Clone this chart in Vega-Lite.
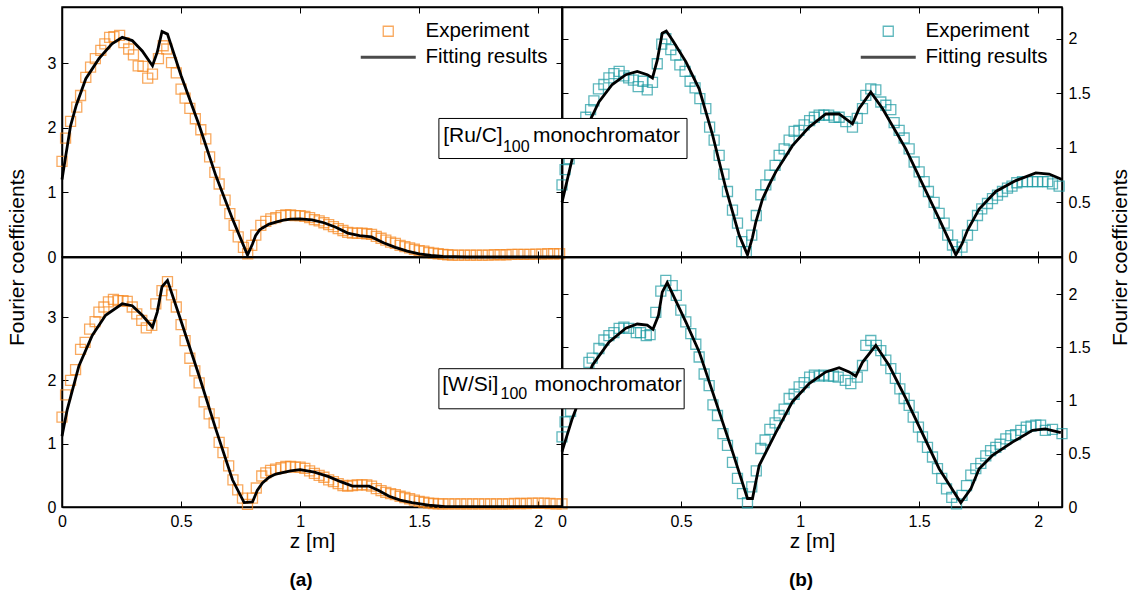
{
"$schema": "https://vega.github.io/schema/vega-lite/v6.json",
"padding": {"left": 5, "top": 5, "right": 0, "bottom": 0},
"config": {
  "font": "Liberation Sans",
  "view": {"stroke": "black", "strokeWidth": 1.5},
  "axis": {"domainColor": "black", "domainWidth": 1.5, "tickColor": "black", "tickWidth": 1, "tickSize": -6, "labelPadding": 12, "labelFontSize": 16, "labelColor": "black", "labelFlush": false, "labelOverlap": false, "format": "~g", "titleFontSize": 21, "titleFontWeight": "normal", "titleColor": "black", "grid": false},
  "legend": {"orient": "top-right", "offset": 14, "labelFontSize": 20.5, "labelColor": "black", "labelOffset": 27, "symbolSize": 100, "rowPadding": 5, "padding": 0},
  "title": {"fontSize": 19, "fontWeight": "bold", "color": "black"}
},
"datasets": {
  "tl_exp": [
    {"z":0,"v":1.48},{"z":0.015,"v":1.84},{"z":0.036,"v":2.10},{"z":0.062,"v":2.32},{"z":0.078,"v":2.50},{"z":0.1,"v":2.78},{"z":0.12,"v":2.94},{"z":0.14,"v":3.07},{"z":0.163,"v":3.20},{"z":0.18,"v":3.30},{"z":0.2,"v":3.40},{"z":0.218,"v":3.41},{"z":0.242,"v":3.43},{"z":0.26,"v":3.32},{"z":0.28,"v":3.22},{"z":0.3,"v":3.13},{"z":0.32,"v":2.96},{"z":0.34,"v":2.95},{"z":0.36,"v":2.77},{"z":0.38,"v":2.83},{"z":0.405,"v":3.07},{"z":0.425,"v":3.27},{"z":0.44,"v":3.22},{"z":0.46,"v":3.01},{"z":0.48,"v":2.85},{"z":0.5,"v":2.60},{"z":0.517,"v":2.46},{"z":0.537,"v":2.30},{"z":0.56,"v":2.14},{"z":0.583,"v":1.97},{"z":0.604,"v":1.83},{"z":0.62,"v":1.55},{"z":0.642,"v":1.31},{"z":0.66,"v":1.13},{"z":0.685,"v":0.88},{"z":0.705,"v":0.67},{"z":0.723,"v":0.49},{"z":0.74,"v":0.31},{"z":0.762,"v":0.15},{"z":0.78,"v":0.05},{"z":0.797,"v":0.18},{"z":0.814,"v":0.34},{"z":0.835,"v":0.49},{"z":0.856,"v":0.55},{"z":0.877,"v":0.59},{"z":0.898,"v":0.61},{"z":0.92,"v":0.64},{"z":0.94,"v":0.65},{"z":0.96,"v":0.65},{"z":0.98,"v":0.64},{"z":1.0,"v":0.64},{"z":1.02,"v":0.63},{"z":1.04,"v":0.61},{"z":1.06,"v":0.58},{"z":1.08,"v":0.56},{"z":1.1,"v":0.53},{"z":1.12,"v":0.50},{"z":1.14,"v":0.47},{"z":1.16,"v":0.44},{"z":1.18,"v":0.41},{"z":1.2,"v":0.38},{"z":1.22,"v":0.37},{"z":1.24,"v":0.37},{"z":1.26,"v":0.37},{"z":1.28,"v":0.36},{"z":1.3,"v":0.35},{"z":1.32,"v":0.32},{"z":1.34,"v":0.29},{"z":1.36,"v":0.26},{"z":1.38,"v":0.23},{"z":1.4,"v":0.21},{"z":1.42,"v":0.18},{"z":1.44,"v":0.16},{"z":1.46,"v":0.14},{"z":1.48,"v":0.12},{"z":1.5,"v":0.10},{"z":1.52,"v":0.09},{"z":1.54,"v":0.07},{"z":1.56,"v":0.06},{"z":1.58,"v":0.05},{"z":1.6,"v":0.04},{"z":1.62,"v":0.035},{"z":1.64,"v":0.03},{"z":1.665,"v":0.03},{"z":1.69,"v":0.03},{"z":1.715,"v":0.03},{"z":1.74,"v":0.03},{"z":1.765,"v":0.03},{"z":1.79,"v":0.03},{"z":1.815,"v":0.035},{"z":1.84,"v":0.035},{"z":1.865,"v":0.035},{"z":1.89,"v":0.04},{"z":1.915,"v":0.04},{"z":1.94,"v":0.04},{"z":1.965,"v":0.04},{"z":1.99,"v":0.045},{"z":2.015,"v":0.045},{"z":2.04,"v":0.05},{"z":2.065,"v":0.05},{"z":2.09,"v":0.05}
  ],
  "tl_fit": [
    {"z":0,"v":1.2},{"z":0.015,"v":1.55},{"z":0.036,"v":2.03},{"z":0.06,"v":2.35},{"z":0.1,"v":2.76},{"z":0.155,"v":3.07},{"z":0.21,"v":3.30},{"z":0.253,"v":3.40},{"z":0.295,"v":3.35},{"z":0.337,"v":3.19},{"z":0.38,"v":2.96},{"z":0.4,"v":3.17},{"z":0.42,"v":3.49},{"z":0.443,"v":3.45},{"z":0.5,"v":2.81},{"z":0.576,"v":2.04},{"z":0.646,"v":1.26},{"z":0.716,"v":0.59},{"z":0.779,"v":0.03},{"z":0.8,"v":0.2},{"z":0.813,"v":0.33},{"z":0.83,"v":0.42},{"z":0.842,"v":0.45},{"z":0.87,"v":0.51},{"z":0.898,"v":0.54},{"z":0.93,"v":0.57},{"z":0.96,"v":0.585},{"z":1.0,"v":0.59},{"z":1.05,"v":0.575},{"z":1.1,"v":0.53},{"z":1.15,"v":0.46},{"z":1.2,"v":0.37},{"z":1.25,"v":0.33},{"z":1.3,"v":0.31},{"z":1.35,"v":0.22},{"z":1.4,"v":0.15},{"z":1.45,"v":0.09},{"z":1.5,"v":0.05},{"z":1.55,"v":0.025},{"z":1.6,"v":0.01},{"z":1.7,"v":0.003},{"z":2.1,"v":0.003}
  ],
  "tr_exp": [
    {"z":0,"v":0.66},{"z":0.013,"v":0.80},{"z":0.03,"v":0.90},{"z":0.05,"v":1.0},{"z":0.07,"v":1.10},{"z":0.085,"v":1.2},{"z":0.1,"v":1.28},{"z":0.12,"v":1.35},{"z":0.134,"v":1.43},{"z":0.153,"v":1.54},{"z":0.176,"v":1.58},{"z":0.197,"v":1.64},{"z":0.218,"v":1.68},{"z":0.24,"v":1.70},{"z":0.26,"v":1.66},{"z":0.28,"v":1.64},{"z":0.3,"v":1.62},{"z":0.32,"v":1.56},{"z":0.34,"v":1.61},{"z":0.358,"v":1.53},{"z":0.38,"v":1.60},{"z":0.4,"v":1.77},{"z":0.419,"v":1.95},{"z":0.436,"v":2.00},{"z":0.457,"v":1.90},{"z":0.478,"v":1.85},{"z":0.495,"v":1.76},{"z":0.517,"v":1.70},{"z":0.538,"v":1.61},{"z":0.559,"v":1.55},{"z":0.579,"v":1.45},{"z":0.604,"v":1.36},{"z":0.62,"v":1.19},{"z":0.639,"v":1.07},{"z":0.66,"v":0.93},{"z":0.68,"v":0.76},{"z":0.695,"v":0.60},{"z":0.716,"v":0.43},{"z":0.737,"v":0.31},{"z":0.755,"v":0.14},{"z":0.774,"v":0.05},{"z":0.797,"v":0.20},{"z":0.816,"v":0.38},{"z":0.835,"v":0.57},{"z":0.856,"v":0.66},{"z":0.873,"v":0.75},{"z":0.895,"v":0.84},{"z":0.912,"v":0.93},{"z":0.933,"v":0.99},{"z":0.954,"v":1.07},{"z":0.975,"v":1.15},{"z":0.995,"v":1.16},{"z":1.017,"v":1.21},{"z":1.04,"v":1.25},{"z":1.06,"v":1.28},{"z":1.08,"v":1.30},{"z":1.1,"v":1.30},{"z":1.12,"v":1.30},{"z":1.143,"v":1.28},{"z":1.164,"v":1.28},{"z":1.192,"v":1.24},{"z":1.22,"v":1.19},{"z":1.24,"v":1.27},{"z":1.262,"v":1.36},{"z":1.276,"v":1.48},{"z":1.297,"v":1.54},{"z":1.318,"v":1.53},{"z":1.339,"v":1.42},{"z":1.36,"v":1.39},{"z":1.381,"v":1.35},{"z":1.395,"v":1.23},{"z":1.416,"v":1.16},{"z":1.437,"v":1.09},{"z":1.458,"v":0.99},{"z":1.479,"v":0.87},{"z":1.5,"v":0.78},{"z":1.521,"v":0.69},{"z":1.539,"v":0.60},{"z":1.563,"v":0.50},{"z":1.584,"v":0.40},{"z":1.605,"v":0.31},{"z":1.62,"v":0.20},{"z":1.64,"v":0.11},{"z":1.657,"v":0.05},{"z":1.68,"v":0.09},{"z":1.703,"v":0.20},{"z":1.724,"v":0.29},{"z":1.745,"v":0.38},{"z":1.763,"v":0.44},{"z":1.787,"v":0.49},{"z":1.808,"v":0.535},{"z":1.829,"v":0.566},{"z":1.85,"v":0.60},{"z":1.871,"v":0.63},{"z":1.89,"v":0.65},{"z":1.91,"v":0.68},{"z":1.934,"v":0.69},{"z":1.955,"v":0.69},{"z":1.976,"v":0.69},{"z":1.997,"v":0.69},{"z":2.02,"v":0.69},{"z":2.04,"v":0.69},{"z":2.06,"v":0.67},{"z":2.088,"v":0.65}
  ],
  "tr_fit": [
    {"z":0,"v":0.5},{"z":0.043,"v":0.90},{"z":0.1,"v":1.17},{"z":0.155,"v":1.42},{"z":0.211,"v":1.58},{"z":0.268,"v":1.67},{"z":0.316,"v":1.70},{"z":0.358,"v":1.67},{"z":0.38,"v":1.64},{"z":0.4,"v":1.80},{"z":0.421,"v":2.05},{"z":0.438,"v":2.07},{"z":0.463,"v":1.99},{"z":0.52,"v":1.79},{"z":0.576,"v":1.54},{"z":0.632,"v":1.12},{"z":0.688,"v":0.63},{"z":0.744,"v":0.20},{"z":0.779,"v":0.02},{"z":0.8,"v":0.18},{"z":0.814,"v":0.32},{"z":0.842,"v":0.53},{"z":0.87,"v":0.66},{"z":0.898,"v":0.78},{"z":0.968,"v":1.02},{"z":1.038,"v":1.19},{"z":1.108,"v":1.31},{"z":1.164,"v":1.31},{"z":1.22,"v":1.22},{"z":1.248,"v":1.36},{"z":1.297,"v":1.51},{"z":1.346,"v":1.36},{"z":1.444,"v":0.99},{"z":1.584,"v":0.35},{"z":1.654,"v":0.02},{"z":1.68,"v":0.12},{"z":1.703,"v":0.245},{"z":1.752,"v":0.44},{"z":1.822,"v":0.60},{"z":1.906,"v":0.70},{"z":1.99,"v":0.77},{"z":2.046,"v":0.76},{"z":2.1,"v":0.71}
  ],
  "bl_exp": [
    {"z":0,"v":1.42},{"z":0.015,"v":1.77},{"z":0.036,"v":2.0},{"z":0.057,"v":2.17},{"z":0.078,"v":2.49},{"z":0.097,"v":2.60},{"z":0.116,"v":2.81},{"z":0.139,"v":2.93},{"z":0.155,"v":3.08},{"z":0.176,"v":3.16},{"z":0.195,"v":3.24},{"z":0.216,"v":3.28},{"z":0.235,"v":3.26},{"z":0.256,"v":3.26},{"z":0.274,"v":3.25},{"z":0.295,"v":3.16},{"z":0.314,"v":3.05},{"z":0.335,"v":2.95},{"z":0.354,"v":2.83},{"z":0.377,"v":2.87},{"z":0.394,"v":3.21},{"z":0.42,"v":3.42},{"z":0.443,"v":3.56},{"z":0.46,"v":3.35},{"z":0.48,"v":3.16},{"z":0.5,"v":2.88},{"z":0.517,"v":2.63},{"z":0.537,"v":2.35},{"z":0.558,"v":2.15},{"z":0.576,"v":1.96},{"z":0.597,"v":1.66},{"z":0.618,"v":1.47},{"z":0.639,"v":1.33},{"z":0.66,"v":1.02},{"z":0.676,"v":0.86},{"z":0.7,"v":0.65},{"z":0.718,"v":0.43},{"z":0.738,"v":0.27},{"z":0.758,"v":0.14},{"z":0.779,"v":0.04},{"z":0.8,"v":0.14},{"z":0.816,"v":0.30},{"z":0.839,"v":0.49},{"z":0.856,"v":0.54},{"z":0.876,"v":0.58},{"z":0.897,"v":0.60},{"z":0.92,"v":0.62},{"z":0.94,"v":0.64},{"z":0.96,"v":0.64},{"z":0.98,"v":0.63},{"z":1.0,"v":0.63},{"z":1.02,"v":0.61},{"z":1.04,"v":0.57},{"z":1.06,"v":0.53},{"z":1.08,"v":0.50},{"z":1.1,"v":0.47},{"z":1.12,"v":0.43},{"z":1.14,"v":0.40},{"z":1.16,"v":0.37},{"z":1.18,"v":0.34},{"z":1.2,"v":0.33},{"z":1.22,"v":0.34},{"z":1.24,"v":0.35},{"z":1.26,"v":0.35},{"z":1.28,"v":0.35},{"z":1.3,"v":0.33},{"z":1.32,"v":0.29},{"z":1.34,"v":0.26},{"z":1.36,"v":0.23},{"z":1.38,"v":0.21},{"z":1.4,"v":0.195},{"z":1.42,"v":0.17},{"z":1.44,"v":0.15},{"z":1.46,"v":0.13},{"z":1.48,"v":0.11},{"z":1.5,"v":0.09},{"z":1.52,"v":0.075},{"z":1.54,"v":0.06},{"z":1.56,"v":0.055},{"z":1.58,"v":0.05},{"z":1.6,"v":0.05},{"z":1.625,"v":0.05},{"z":1.65,"v":0.05},{"z":1.675,"v":0.05},{"z":1.7,"v":0.05},{"z":1.725,"v":0.05},{"z":1.75,"v":0.05},{"z":1.775,"v":0.05},{"z":1.8,"v":0.05},{"z":1.825,"v":0.05},{"z":1.85,"v":0.05},{"z":1.875,"v":0.05},{"z":1.9,"v":0.055},{"z":1.925,"v":0.055},{"z":1.95,"v":0.055},{"z":1.975,"v":0.06},{"z":2.0,"v":0.06},{"z":2.025,"v":0.06},{"z":2.05,"v":0.055},{"z":2.075,"v":0.05},{"z":2.1,"v":0.05}
  ],
  "bl_fit": [
    {"z":0,"v":1.12},{"z":0.022,"v":1.54},{"z":0.071,"v":2.23},{"z":0.127,"v":2.71},{"z":0.183,"v":3.03},{"z":0.253,"v":3.21},{"z":0.295,"v":3.18},{"z":0.337,"v":3.03},{"z":0.38,"v":2.84},{"z":0.4,"v":3.08},{"z":0.42,"v":3.48},{"z":0.443,"v":3.58},{"z":0.492,"v":3.03},{"z":0.576,"v":2.07},{"z":0.646,"v":1.23},{"z":0.716,"v":0.43},{"z":0.765,"v":0.07},{"z":0.8,"v":0.08},{"z":0.82,"v":0.26},{"z":0.842,"v":0.38},{"z":0.87,"v":0.47},{"z":0.898,"v":0.52},{"z":0.96,"v":0.57},{"z":1.0,"v":0.59},{"z":1.06,"v":0.55},{"z":1.12,"v":0.48},{"z":1.17,"v":0.40},{"z":1.22,"v":0.33},{"z":1.29,"v":0.33},{"z":1.33,"v":0.26},{"z":1.374,"v":0.17},{"z":1.42,"v":0.11},{"z":1.47,"v":0.07},{"z":1.54,"v":0.03},{"z":1.61,"v":0.005},{"z":2.1,"v":0.005}
  ],
  "br_exp": [
    {"z":0,"v":0.66},{"z":0.013,"v":0.80},{"z":0.036,"v":0.90},{"z":0.06,"v":1.05},{"z":0.085,"v":1.2},{"z":0.113,"v":1.36},{"z":0.127,"v":1.40},{"z":0.155,"v":1.49},{"z":0.176,"v":1.57},{"z":0.197,"v":1.61},{"z":0.218,"v":1.64},{"z":0.24,"v":1.68},{"z":0.26,"v":1.69},{"z":0.28,"v":1.68},{"z":0.312,"v":1.64},{"z":0.33,"v":1.64},{"z":0.354,"v":1.61},{"z":0.37,"v":1.62},{"z":0.394,"v":1.83},{"z":0.415,"v":2.03},{"z":0.436,"v":2.13},{"z":0.463,"v":2.08},{"z":0.48,"v":1.99},{"z":0.499,"v":1.85},{"z":0.52,"v":1.74},{"z":0.541,"v":1.63},{"z":0.562,"v":1.53},{"z":0.576,"v":1.41},{"z":0.597,"v":1.25},{"z":0.618,"v":1.14},{"z":0.634,"v":0.96},{"z":0.653,"v":0.86},{"z":0.676,"v":0.69},{"z":0.695,"v":0.58},{"z":0.716,"v":0.42},{"z":0.737,"v":0.27},{"z":0.758,"v":0.125},{"z":0.779,"v":0.04},{"z":0.797,"v":0.19},{"z":0.816,"v":0.34},{"z":0.835,"v":0.55},{"z":0.853,"v":0.63},{"z":0.873,"v":0.73},{"z":0.895,"v":0.79},{"z":0.912,"v":0.86},{"z":0.933,"v":0.92},{"z":0.954,"v":1.02},{"z":0.975,"v":1.06},{"z":0.996,"v":1.13},{"z":1.017,"v":1.17},{"z":1.04,"v":1.22},{"z":1.06,"v":1.24},{"z":1.08,"v":1.23},{"z":1.1,"v":1.24},{"z":1.12,"v":1.23},{"z":1.14,"v":1.23},{"z":1.16,"v":1.22},{"z":1.19,"v":1.19},{"z":1.213,"v":1.16},{"z":1.24,"v":1.22},{"z":1.262,"v":1.33},{"z":1.276,"v":1.52},{"z":1.297,"v":1.565},{"z":1.32,"v":1.52},{"z":1.339,"v":1.47},{"z":1.36,"v":1.38},{"z":1.381,"v":1.30},{"z":1.4,"v":1.21},{"z":1.419,"v":1.11},{"z":1.437,"v":1.02},{"z":1.458,"v":0.955},{"z":1.475,"v":0.845},{"z":1.497,"v":0.75},{"z":1.514,"v":0.66},{"z":1.535,"v":0.56},{"z":1.556,"v":0.47},{"z":1.577,"v":0.36},{"z":1.595,"v":0.27},{"z":1.615,"v":0.17},{"z":1.637,"v":0.09},{"z":1.657,"v":0.03},{"z":1.68,"v":0.11},{"z":1.699,"v":0.20},{"z":1.717,"v":0.30},{"z":1.738,"v":0.36},{"z":1.759,"v":0.41},{"z":1.78,"v":0.48},{"z":1.8,"v":0.53},{"z":1.822,"v":0.56},{"z":1.84,"v":0.59},{"z":1.864,"v":0.64},{"z":1.885,"v":0.67},{"z":1.905,"v":0.68},{"z":1.927,"v":0.72},{"z":1.95,"v":0.75},{"z":1.97,"v":0.76},{"z":1.99,"v":0.77},{"z":2.01,"v":0.77},{"z":2.03,"v":0.72},{"z":2.06,"v":0.73},{"z":2.1,"v":0.69}
  ],
  "br_fit": [
    {"z":0,"v":0.52},{"z":0.043,"v":0.83},{"z":0.127,"v":1.33},{"z":0.197,"v":1.55},{"z":0.268,"v":1.68},{"z":0.316,"v":1.72},{"z":0.358,"v":1.71},{"z":0.382,"v":1.67},{"z":0.405,"v":1.80},{"z":0.421,"v":2.02},{"z":0.442,"v":2.11},{"z":0.52,"v":1.74},{"z":0.576,"v":1.46},{"z":0.646,"v":0.99},{"z":0.716,"v":0.52},{"z":0.779,"v":0.08},{"z":0.8,"v":0.08},{"z":0.828,"v":0.39},{"z":0.898,"v":0.70},{"z":0.968,"v":0.99},{"z":1.038,"v":1.16},{"z":1.108,"v":1.27},{"z":1.164,"v":1.31},{"z":1.206,"v":1.27},{"z":1.234,"v":1.23},{"z":1.262,"v":1.36},{"z":1.318,"v":1.52},{"z":1.374,"v":1.33},{"z":1.444,"v":1.02},{"z":1.584,"v":0.36},{"z":1.675,"v":0.04},{"z":1.717,"v":0.17},{"z":1.752,"v":0.36},{"z":1.808,"v":0.485},{"z":1.892,"v":0.61},{"z":1.976,"v":0.72},{"z":2.03,"v":0.735},{"z":2.095,"v":0.70}
  ]
},
"bounds": "flush",
"spacing": 0,
"columns": 2,
"resolve": {"scale": {"color": "independent", "shape": "independent", "strokeWidth": "independent", "x": "independent", "y": "independent"}, "legend": {"color": "independent", "shape": "independent", "strokeWidth": "independent"}},
"concat": [
  {
    "width": 500, "height": 250,
    "resolve": {"axis": {"x": "independent", "y": "independent"}},
    "layer": [
      {
        "data": {"name": "tl_exp"},
        "mark": {"type": "point", "filled": false, "size": 100},
        "encoding": {
          "x": {"field": "z", "type": "quantitative", "scale": {"domain": [0, 2.1], "nice": false, "zero": false}, "axis": {"orient": "bottom", "values": [0, 0.5, 1, 1.5, 2], "labels": false, "title": null}},
          "y": {"field": "v", "type": "quantitative", "scale": {"domain": [0, 3.87], "nice": false}, "axis": {"orient": "left", "values": [0, 1, 2, 3], "title": "Fourier coefficients", "titleX": -45, "titleY": 250, "titleAngle": 270, "titleBaseline": "middle", "titleAlign": "center"}},
          "color": {"datum": "Experiment", "type": "nominal", "scale": {"domain": ["Experiment", "Fitting results"], "range": ["#F7861C", "#000000"]}, "legend": {"title": null}},
          "shape": {"datum": "Experiment", "type": "nominal", "scale": {"domain": ["Experiment", "Fitting results"], "range": ["square", "M-5.5,0H5.5"]}, "legend": {"title": null}},
          "strokeWidth": {"datum": "Experiment", "type": "ordinal", "scale": {"domain": ["Experiment", "Fitting results"], "range": [1.3, 3]}, "legend": {"title": null}}
        }
      },
      {
        "data": {"name": "tl_fit"},
        "mark": {"type": "line", "color": "black", "strokeWidth": 2.8},
        "encoding": {
          "x": {"field": "z", "type": "quantitative", "axis": {"orient": "top", "values": [0, 0.5, 1, 1.5, 2], "labels": false, "title": null}},
          "y": {"field": "v", "type": "quantitative", "axis": {"orient": "right", "values": [0, 1, 2, 3], "labels": false, "title": null}}
        }
      }
    ]
  },
  {
    "width": 500, "height": 250,
    "resolve": {"axis": {"x": "independent", "y": "independent"}},
    "layer": [
      {
        "data": {"name": "tr_exp"},
        "mark": {"type": "point", "filled": false, "size": 100},
        "encoding": {
          "x": {"field": "z", "type": "quantitative", "scale": {"domain": [0, 2.1], "nice": false, "zero": false}, "axis": {"orient": "bottom", "values": [0, 0.5, 1, 1.5, 2], "labels": false, "title": null}},
          "y": {"field": "v", "type": "quantitative", "scale": {"domain": [0, 2.29], "nice": false}, "axis": {"orient": "right", "values": [0, 0.5, 1, 1.5, 2], "title": "Fourier coefficients", "titleX": 58, "titleY": 250, "titleAngle": 270, "titleBaseline": "middle", "titleAlign": "center"}},
          "color": {"datum": "Experiment", "type": "nominal", "scale": {"domain": ["Experiment", "Fitting results"], "range": ["#1B9AA2", "#000000"]}, "legend": {"title": null}},
          "shape": {"datum": "Experiment", "type": "nominal", "scale": {"domain": ["Experiment", "Fitting results"], "range": ["square", "M-5.5,0H5.5"]}, "legend": {"title": null}},
          "strokeWidth": {"datum": "Experiment", "type": "ordinal", "scale": {"domain": ["Experiment", "Fitting results"], "range": [1.3, 3]}, "legend": {"title": null}}
        }
      },
      {
        "data": {"name": "tr_fit"},
        "mark": {"type": "line", "color": "black", "strokeWidth": 2.8},
        "encoding": {
          "x": {"field": "z", "type": "quantitative", "axis": {"orient": "top", "values": [0, 0.5, 1, 1.5, 2], "labels": false, "title": null}},
          "y": {"field": "v", "type": "quantitative", "axis": {"orient": "left", "values": [0, 0.5, 1, 1.5, 2], "labels": false, "title": null}}
        }
      },
      {
        "data": {"values": [{}]},
        "mark": {"type": "rect", "fill": "white", "stroke": "black", "strokeWidth": 1},
        "encoding": {
          "x": {"datum": -0.517, "type": "quantitative", "axis": null},
          "x2": {"datum": 0.525},
          "y": {"datum": 0.902, "type": "quantitative", "axis": null},
          "y2": {"datum": 1.269}
        }
      },
      {
        "data": {"values": [{}]},
        "mark": {"type": "text", "text": "[Ru/C]", "align": "left", "baseline": "alphabetic", "fontSize": 21, "color": "black"},
        "encoding": {"x": {"datum": -0.499, "type": "quantitative", "axis": null}, "y": {"datum": 1.055, "type": "quantitative", "axis": null}}
      },
      {
        "data": {"values": [{}]},
        "mark": {"type": "text", "text": "100", "align": "left", "baseline": "alphabetic", "fontSize": 16, "color": "black"},
        "encoding": {"x": {"datum": -0.248, "type": "quantitative", "axis": null}, "y": {"datum": 0.963, "type": "quantitative", "axis": null}}
      },
      {
        "data": {"values": [{}]},
        "mark": {"type": "text", "text": "monochromator", "align": "left", "baseline": "alphabetic", "fontSize": 21, "color": "black"},
        "encoding": {"x": {"datum": -0.122, "type": "quantitative", "axis": null}, "y": {"datum": 1.055, "type": "quantitative", "axis": null}}
      }
    ]
  },
  {
    "width": 500, "height": 250,
    "title": {"text": "(a)", "orient": "bottom", "offset": 20, "dx": -11},
    "resolve": {"axis": {"x": "independent", "y": "independent"}},
    "layer": [
      {
        "data": {"name": "bl_exp"},
        "mark": {"type": "point", "shape": "square", "filled": false, "size": 100, "strokeWidth": 1.3, "color": "#F7861C"},
        "encoding": {
          "x": {"field": "z", "type": "quantitative", "scale": {"domain": [0, 2.1], "nice": false, "zero": false}, "axis": {"orient": "bottom", "values": [0, 0.5, 1, 1.5, 2], "title": "z [m]", "titlePadding": 1}},
          "y": {"field": "v", "type": "quantitative", "scale": {"domain": [0, 3.95], "nice": false}, "axis": {"orient": "left", "values": [0, 1, 2, 3], "title": null}}
        }
      },
      {
        "data": {"name": "bl_fit"},
        "mark": {"type": "line", "color": "black", "strokeWidth": 2.8},
        "encoding": {
          "x": {"field": "z", "type": "quantitative", "axis": {"orient": "top", "values": [0, 0.5, 1, 1.5, 2], "labels": false, "title": null}},
          "y": {"field": "v", "type": "quantitative", "axis": {"orient": "right", "values": [0, 1, 2, 3], "labels": false, "title": null}}
        }
      }
    ]
  },
  {
    "width": 500, "height": 250,
    "title": {"text": "(b)", "orient": "bottom", "offset": 20, "dx": -11},
    "resolve": {"axis": {"x": "independent", "y": "independent"}},
    "layer": [
      {
        "data": {"name": "br_exp"},
        "mark": {"type": "point", "shape": "square", "filled": false, "size": 100, "strokeWidth": 1.3, "color": "#1B9AA2"},
        "encoding": {
          "x": {"field": "z", "type": "quantitative", "scale": {"domain": [0, 2.1], "nice": false, "zero": false}, "axis": {"orient": "bottom", "values": [0, 0.5, 1, 1.5, 2], "title": "z [m]", "titlePadding": 1}},
          "y": {"field": "v", "type": "quantitative", "scale": {"domain": [0, 2.35], "nice": false}, "axis": {"orient": "right", "values": [0, 0.5, 1, 1.5, 2], "title": null}}
        }
      },
      {
        "data": {"name": "br_fit"},
        "mark": {"type": "line", "color": "black", "strokeWidth": 2.8},
        "encoding": {
          "x": {"field": "z", "type": "quantitative", "axis": {"orient": "top", "values": [0, 0.5, 1, 1.5, 2], "labels": false, "title": null}},
          "y": {"field": "v", "type": "quantitative", "axis": {"orient": "left", "values": [0, 0.5, 1, 1.5, 2], "labels": false, "title": null}}
        }
      },
      {
        "data": {"values": [{}]},
        "mark": {"type": "rect", "fill": "white", "stroke": "black", "strokeWidth": 1},
        "encoding": {
          "x": {"datum": -0.517, "type": "quantitative", "axis": null},
          "x2": {"datum": 0.513},
          "y": {"datum": 0.923, "type": "quantitative", "axis": null},
          "y2": {"datum": 1.30}
        }
      },
      {
        "data": {"values": [{}]},
        "mark": {"type": "text", "text": "[W/Si]", "align": "left", "baseline": "alphabetic", "fontSize": 21, "color": "black"},
        "encoding": {"x": {"datum": -0.503, "type": "quantitative", "axis": null}, "y": {"datum": 1.086, "type": "quantitative", "axis": null}}
      },
      {
        "data": {"values": [{}]},
        "mark": {"type": "text", "text": "100", "align": "left", "baseline": "alphabetic", "fontSize": 16, "color": "black"},
        "encoding": {"x": {"datum": -0.258, "type": "quantitative", "axis": null}, "y": {"datum": 1.011, "type": "quantitative", "axis": null}}
      },
      {
        "data": {"values": [{}]},
        "mark": {"type": "text", "text": "monochromator", "align": "left", "baseline": "alphabetic", "fontSize": 21, "color": "black"},
        "encoding": {"x": {"datum": -0.115, "type": "quantitative", "axis": null}, "y": {"datum": 1.086, "type": "quantitative", "axis": null}}
      }
    ]
  }
]
}
